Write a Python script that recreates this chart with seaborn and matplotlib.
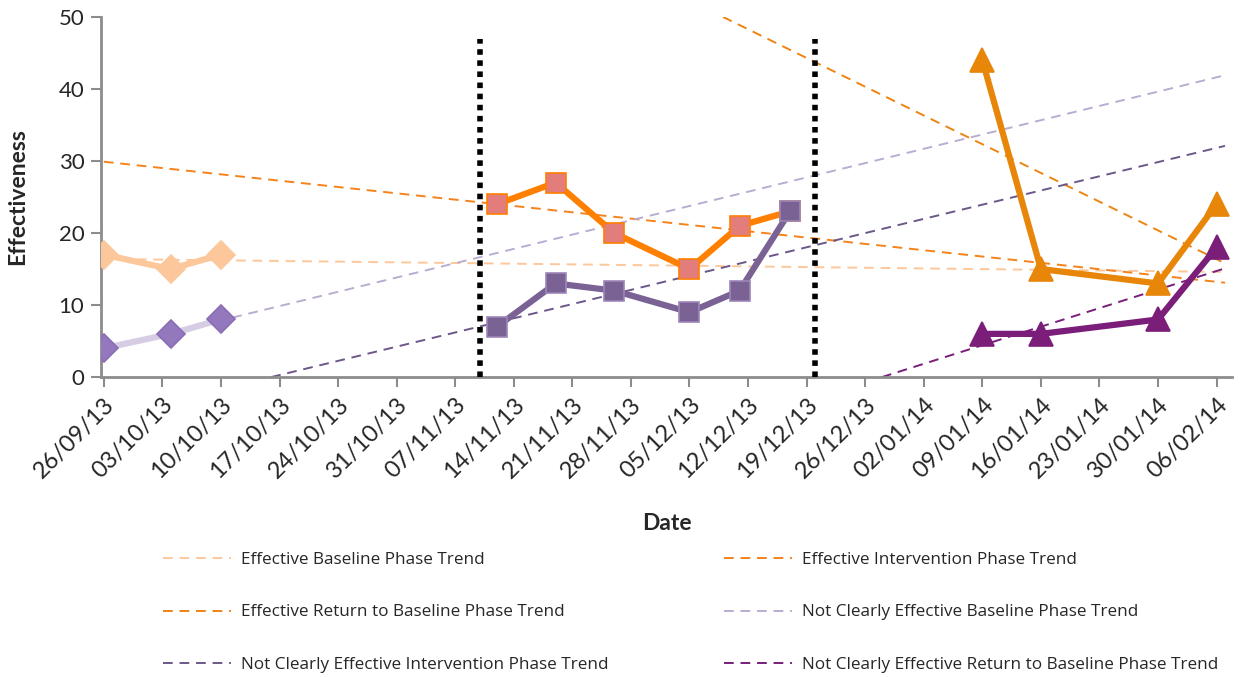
import pandas as pd
import matplotlib
matplotlib.use("Agg")
import matplotlib.pyplot as plt
import matplotlib.dates as mdates
import seaborn as sns

# data
base_dates = ["2013-09-26", "2013-10-04", "2013-10-10"]
eff_base = [17, 15, 17]
ncl_base = [4, 6, 8]

int_dates = ["2013-11-12", "2013-11-19", "2013-11-26", "2013-12-05", "2013-12-11", "2013-12-17"]
eff_int = [24, 27, 20, 15, 21, 23]
ncl_int = [7, 13, 12, 9, 12, 23]

ret_dates = ["2014-01-09", "2014-01-16", "2014-01-30", "2014-02-06"]
eff_ret = [44, 15, 13, 24]
ncl_ret = [6, 6, 8, 18]

# trend lines (start / end)
trend_names = [
    "Effective Baseline Phase Trend",
    "Effective Intervention Phase Trend",
    "Effective Return to Baseline Phase Trend",
    "Not Clearly Effective Baseline Phase Trend",
    "Not Clearly Effective Intervention Phase Trend",
    "Not Clearly Effective Return to Baseline Phase Trend",
]
trend_start_dates = ["2013-09-26", "2013-09-26", "2013-12-09", "2013-09-26", "2013-10-16", "2013-12-28"]
trend_end_dates = ["2014-02-07"] * 6
trend_start_vals = [16.4, 29.9, 50.0, 3.9, 0.0, 0.0]
trend_end_vals = [14.6, 13.1, 15.8, 41.9, 32.1, 15.1]
trend_colors = ["#FCC89B", "#F5821A", "#EE8412", "#BBACD2", "#6C5888", "#7A1E7A"]

phase_change_dates = ["2013-11-10", "2013-12-20"]

tick_dates = pd.date_range("2013-09-26", "2014-02-06", freq="7D")

sns.set_style("white")
plt.rcParams["font.family"] = ["Lato", "DejaVu Sans"]

fig = plt.figure(figsize=(12.41, 6.77), dpi=100)
ax = fig.add_axes([0.0814, 0.443, 0.9113, 0.532])

# trend lines
trend_handles = []
for name, d0, d1, v0, v1, c in zip(trend_names, trend_start_dates, trend_end_dates,
                                   trend_start_vals, trend_end_vals, trend_colors):
    tdf = pd.DataFrame({"date": pd.to_datetime([d0, d1]), "val": [v0, v1]})
    sns.lineplot(data=tdf, x="date", y="val", ax=ax, color=c, lw=1.4,
                 linestyle=(0, (5, 3.5)), zorder=2)
    trend_handles.append(ax.lines[-1])

# phase change lines
for d in phase_change_dates:
    ax.vlines(pd.to_datetime(d), 0, 47, colors="black", lw=4, linestyles=(0, (1, 1)), zorder=3)


def series(dates, vals, color, marker, ms, mfc, mec, lw=4.5):
    df = pd.DataFrame({"date": pd.to_datetime(dates), "val": vals})
    sns.lineplot(data=df, x="date", y="val", ax=ax, color=color, lw=lw,
                 marker=marker, markersize=ms, markerfacecolor=mfc,
                 markeredgecolor=mec, markeredgewidth=1.2, zorder=4)


series(base_dates, eff_base, "#FCC89B", "D", 14, "#FCC89B", "#FCC89B")
series(base_dates, ncl_base, "#D6CCE3", "D", 14, "#9478BE", "#8A6DB3")
series(int_dates, eff_int, "#FF7F00", "s", 15, "#E27D7B", "#FF7F00")
series(int_dates, ncl_int, "#7A6294", "s", 15, "#7A6294", "#9D86B8")
series(ret_dates, eff_ret, "#E8860A", "^", 17, "#E8860A", "#E8860A")
series(ret_dates, ncl_ret, "#7A1E7A", "^", 17, "#7A1E7A", "#7A1E7A")

ax.set_xlim(pd.to_datetime("2013-09-25 16:00"), pd.to_datetime("2014-02-07 20:00"))
ax.set_ylim(0, 50)
ax.set_yticks(range(0, 51, 10))
ax.set_xticks(tick_dates)
ax.xaxis.set_major_formatter(mdates.DateFormatter("%d/%m/%y"))
plt.setp(ax.get_xticklabels(), rotation=45, ha="right", rotation_mode="anchor", fontsize=17)
plt.setp(ax.get_yticklabels(), fontsize=16)
ax.tick_params(axis="both", which="major", direction="out", length=7, width=1.5,
               color="#8C8C8C", bottom=True, left=True, pad=5)

for side in ["top", "right"]:
    ax.spines[side].set_visible(False)
for side in ["left", "bottom"]:
    ax.spines[side].set_color("#8C8C8C")
    ax.spines[side].set_linewidth(2)

ax.set_xlabel("Date", fontsize=16.5, fontweight="bold", labelpad=22)
ax.set_ylabel("Effectiveness", fontsize=16.5, fontweight="bold", labelpad=22)

# legend: two separate columns, filled row-wise like the reference
leg_font = {"family": ["Liberation Sans Narrow", "Open Sans", "DejaVu Sans"], "size": 12.3}
for cols, xa in [([0, 2, 4], 0.131), ([1, 3, 5], 0.583)]:
    lg = fig.legend([trend_handles[i] for i in cols], [trend_names[i] for i in cols],
                    loc="upper left", bbox_to_anchor=(xa, 0.185), frameon=False,
                    borderpad=0, borderaxespad=0, handlelength=4.0, handletextpad=0.6,
                    labelspacing=2.15, prop=leg_font)

fig.savefig("out.png", dpi=100)
